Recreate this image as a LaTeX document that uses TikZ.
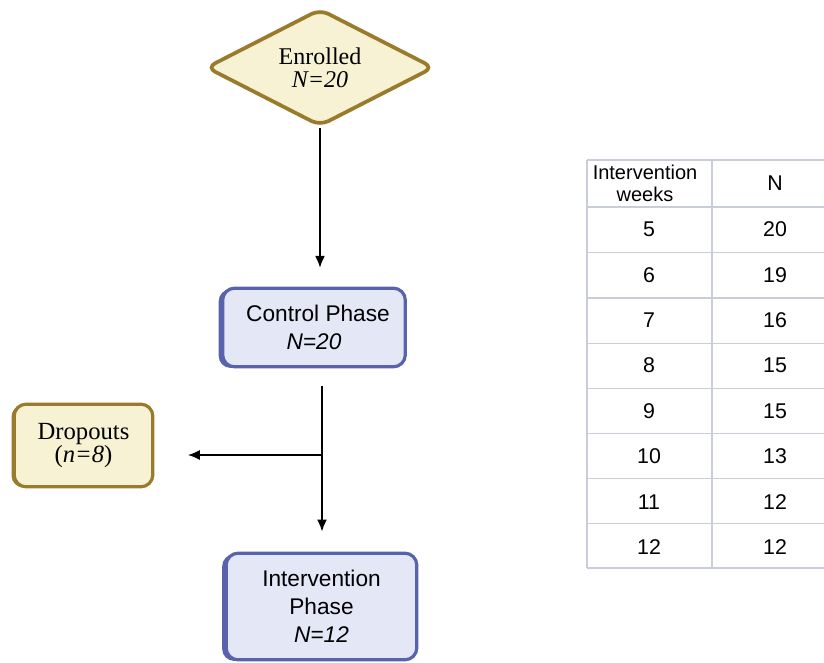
\documentclass[tikz,border=0pt]{standalone}
\usepackage{fontspec}
\setmainfont{Liberation Serif}
\setsansfont{Liberation Sans}
\usetikzlibrary{shapes.geometric, arrows.meta, shadows, positioning}

\definecolor{phasefill}{HTML}{E4E7F6}
\definecolor{phaseline}{HTML}{5863AC}
\definecolor{sandfill}{HTML}{F6F2D3}
\definecolor{sandline}{HTML}{9A7B2C}
\definecolor{gridline}{HTML}{C9CDD9}

\tikzset{
  sandbox/.style={rectangle, rounded corners=9pt, fill=sandfill, draw=sandline, line width=2.4pt,
    align=center, inner sep=0pt, font=\fontsize{18.5}{17}\selectfont,
    drop shadow={shadow xshift=-2pt, shadow yshift=-0.5pt, fill=sandline, opacity=1}},
  phasebox/.style={rectangle, rounded corners=9pt, fill=phasefill, draw=phaseline, line width=2.4pt,
    align=center, inner sep=0pt, font=\sffamily\fontsize{17}{21}\selectfont,
    drop shadow={shadow xshift=-3pt, shadow yshift=-0.8pt, fill=phaseline, opacity=1}},
  flow/.style={line width=1.4pt, -{Latex[length=9pt, width=7.5pt]}},
  cell/.style={font=\sffamily\fontsize{16}{17}\selectfont, align=center, inner sep=0pt}
}

\begin{document}
\begin{tikzpicture}[x=0.75pt, y=-0.75pt]
			\useasboundingbox (0,0) rectangle (824,662);
			% Flow chart boxes
			\node[diamond, aspect=1.96, minimum width=171pt, minimum height=88pt, rounded corners=7pt,
			  fill=sandfill, draw=sandline, line width=2.8pt, align=center, inner sep=0pt,
			  font=\fontsize{18}{17.5}\selectfont] (enrolled) at (320,67.5) {Enrolled\\\textit{N=20}};
			\node[phasebox, minimum width=137pt, minimum height=59pt] (control) at (314,327.5)
			  {\hspace*{6pt}Control Phase\\\textit{N=20}};
			\node[sandbox, minimum width=104pt, minimum height=62pt] (dropouts) at (83.5,445.5)
			  {Dropouts\\(\textit{n=8})};
			\node[phasebox, minimum width=143pt, minimum height=80pt] (intervention) at (321.5,606.5)
			  {Intervention\\Phase\\\textit{N=12}};
			% Connectors
			\coordinate (split) at (322,455);
			\draw[flow, shorten >=14pt] (enrolled.south) -- (enrolled.south |- control.north);
			\draw[flow, shorten <=13pt, shorten >=15pt] (split |- control.south) -- (split |- intervention.north);
			\draw[flow, shorten >=25pt] (split) -- (split -| dropouts.east);
			% Weeks table
			\foreach \ypos in {160,207,252.5,298,343.5,388.5,433.5,478.5,523.5,568}
			  \draw[gridline, line width=1.1pt] (587,\ypos) -- (824,\ypos);
			\draw[gridline, line width=1.1pt] (587,160) -- (587,568);
			\draw[gridline, line width=1.1pt] (712,160) -- (712,568);
			\node[cell, font=\sffamily\fontsize{15}{16.5}\selectfont] (headweeks) at (645,183.5) {Intervention\\weeks};
			\node[cell] (headn) at (775,183.5) {N};
			\foreach \wk/\cnt [count=\row] in {5/20,6/19,7/16,8/15,9/15,10/13,11/12,12/12} {
			  \node[cell] (week\row) at (649,184+45.4*\row) {\wk};
			  \node[cell] (count\row) at (775,184+45.4*\row) {\cnt};
			}
		\end{tikzpicture}
\end{document}
